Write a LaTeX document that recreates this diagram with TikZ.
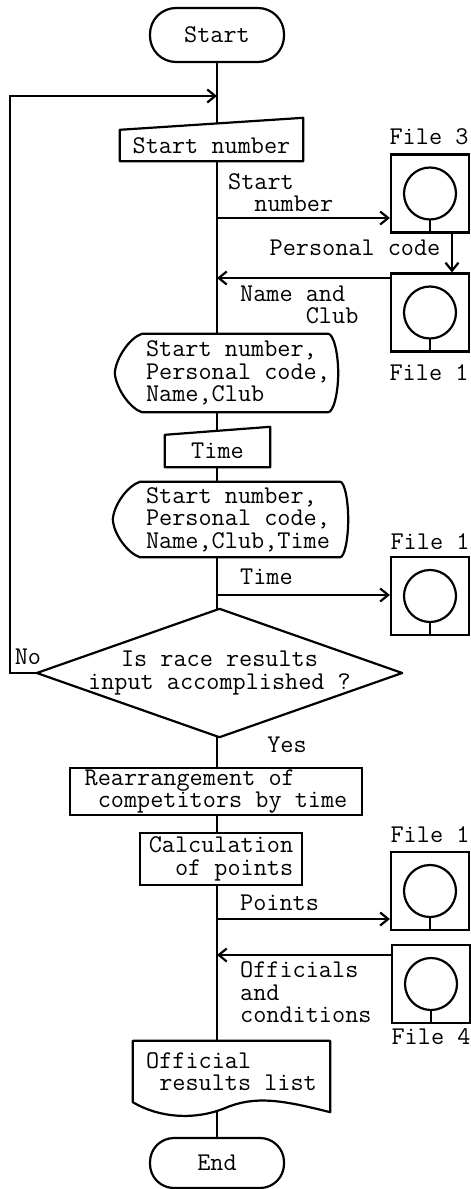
\documentclass[tikz,border=0pt]{standalone}
\usepackage{fontspec}
\usetikzlibrary{arrows.meta,calc}
\pgfdeclarelayer{links}
\pgfdeclarelayer{frames}
\pgfsetlayers{links,frames,main}

\newcommand\flowfont{\ttfamily\fontsize{25.5pt}{22.5pt}\selectfont}

% manual input: rectangle whose top edge rises towards the right
\newcommand\manualframe[2]{%
  \draw[frame] (#1.south west) -- (#1.south east) -- ($(#1.north east)+(0,-#2)$)
    -- (#1.north west) -- cycle;}

% display: pointed left end, rounded right end
% #2 end of top edge, #3 control, #4 bulge (offsets from the east side)
\newcommand\displayframe[4]{%
  \draw[frame] (#1.north west) -- ($(#1.north east)+(#2,0)$)
    .. controls ($(#1.north east)+(#3,0)$) and ($(#1.east)+(#4,-21)$) .. ($(#1.east)+(#4,0)$)
    .. controls ($(#1.east)+(#4,21)$) and ($(#1.south east)+(#3,0)$) .. ($(#1.south east)+(#2,0)$)
    -- (#1.south west)
    .. controls ($(#1.south west)+(-12,-4)$) and ($(#1.west)+(-26,15)$) .. ($(#1.west)+(-27,0)$)
    .. controls ($(#1.west)+(-26,-15)$) and ($(#1.north west)+(-12,4)$) .. cycle;}

\begin{document}
\begin{tikzpicture}[x=1pt,y=-1pt,
  thick line/.style={line width=2.2pt},
  txt/.style={font=\flowfont, inner sep=0pt},
  terminal/.style={txt, thick line, draw, fill=white, rounded corners=26pt,
    minimum width=134pt, minimum height=54pt},
  procbox/.style={txt, thick line, draw, fill=white, align=left},
  holder/.style={txt, align=left},
  filebox/.style={thick line, draw, fill=white, minimum width=78pt, minimum height=78pt, inner sep=0pt},
  frame/.style={thick line, draw, fill=white, line join=round},
  link/.style={thick line},
  flow/.style={thick line, -{Straight Barb[length=8pt,width=13pt]}},
  lbl/.style={txt, align=left}]
\useasboundingbox (0,0) rectangle (471,1189);

% ---- main column
\node[terminal] (start) at (217,35) {Start};
\node[holder, minimum width=183pt, minimum height=31pt] (in1) at (211.5,145.5) {Start number};
\node[holder, minimum width=192pt, minimum height=78pt] (d1) at (238,373)
  {Start number,\\Personal code,\\Name,Club};
\node[holder, minimum width=105pt, minimum height=32pt] (in2) at (217.5,451) {Time};
\node[holder, minimum width=196pt, minimum height=75pt] (d2) at (238,519.5)
  {Start number,\\Personal code,\\Name,Club,Time};
\node[holder, align=center, minimum width=365pt, minimum height=128pt] (dec) at (219.5,673)
  {Is race results\\input accomplished ?};
\node[procbox, minimum width=292pt, minimum height=47pt] (sort) at (216,791.5)
  {Rearrangement of\\\phantom{x}competitors by time};
\node[procbox, minimum width=162pt, minimum height=52pt] (points) at (221,859)
  {Calculation\\\phantom{xx}of points};
\node[holder, minimum width=197pt, minimum height=61pt] (doc) at (231.5,1071.5)
  {Official\\\phantom{x}results list};
\node[terminal, minimum height=50pt, rounded corners=24pt] (end) at (217,1163) {End};

% ---- files
\node[filebox] (f3)  at (430,193.5) {};
\node[filebox] (f1a) at (430,312.5) {};
\node[filebox] (f1b) at (430,596) {};
\node[filebox] (f1c) at (430,891) {};
\node[filebox] (f4)  at (431,984) {};
\foreach \f in {f3,f1a,f1b,f1c,f4}{
  \draw[thick line] (\f.center) circle[radius=26pt];
  \draw[thick line] ($(\f.center)+(0,26)$) -- (\f.south);
}
\node[lbl] (lab-f3)  at (429,137)  {File 3};
\node[lbl] (lab-f1a) at (429,373)  {File 1};
\node[lbl] (lab-f1b) at (430,542)  {File 1};
\node[lbl] (lab-f1c) at (430,835)  {File 1};
\node[lbl] (lab-f4)  at (431,1037) {File 4};

% ---- data flow labels
\node[lbl, anchor=west] (lab-sn) at (228,192.5) {Start\\\phantom{St}number};
\node[lbl] (lab-pc) at (355,248) {Personal code};
\node[lbl, anchor=west] (lab-nc) at (240,305) {Name and\\\phantom{NameX}Club};
\node[lbl, anchor=west] (lab-time) at (240,577) {Time};
\node[lbl] (lab-no) at (28,657) {No};
\node[lbl] (lab-yes) at (287,745) {Yes};
\node[lbl, anchor=west] (lab-pts) at (240,903) {Points};
\node[lbl, anchor=west] (lab-oc) at (240,992.5) {Officials\\and\\conditions};

% ---- points on the main line
\coordinate (back) at (217,96);
\coordinate (rail) at (10,96);
\coordinate (t1) at (217,218);
\coordinate (t2) at (217,278);
\coordinate (t3) at (217,595);
\coordinate (t4) at (217,919);
\coordinate (t5) at (217,955);

% ---- outlines of the special symbols
\begin{pgfonlayer}{frames}
  \manualframe{in1}{12}
  \manualframe{in2}{8}
  \displayframe{d1}{-6}{-1}{4}
  \displayframe{d2}{4}{8}{12}
  \draw[frame] (dec.north) -- (dec.east) -- (dec.south) -- (dec.west) -- cycle;
  \draw[frame] (doc.north west) -- (doc.south west)
    .. controls ($(doc.south west)+(27,16)$) and ($(doc.south west)+(62,18)$) .. ($(doc.south west)+(92,6)$)
    .. controls ($(doc.south west)+(122,-7)$) and ($(doc.south west)+(150,-2)$) .. ($(doc.south east)+(0,10)$)
    -- (doc.north east) -- cycle;
\end{pgfonlayer}

% ---- connectors
\begin{pgfonlayer}{links}
  \draw[link] (start) -- (start |- in1);
  \draw[link] (start |- in1) -- (start |- d1);
  \draw[link] (start |- d1) -- (start |- in2);
  \draw[link] (start |- in2) -- (start |- d2);
  \draw[link] (start |- d2) -- (start |- dec);
  \draw[link] (start |- dec) -- (start |- sort);
  \draw[link] (start |- sort) -- (start |- points);
  \draw[link] (start |- points) -- (start |- doc);
  \draw[link] (start |- doc) -- (end);
  \draw[flow] (t1) -- (t1 -| f3.west);
  \draw[flow] ([xshift=22pt]f3.south) -- ([xshift=22pt]f1a.north);
  \draw[flow] (t2 -| f1a.west) -- (t2);
  \draw[flow] (t3) -- (t3 -| f1b.west);
  \draw[flow] (t4) -- (t4 -| f1c.west);
  \draw[flow] (t5 -| f4.west) -- (t5);
  \draw[flow, line join=miter] (dec.west) -| (rail) -- (back);
\end{pgfonlayer}
\end{tikzpicture}
\end{document}
